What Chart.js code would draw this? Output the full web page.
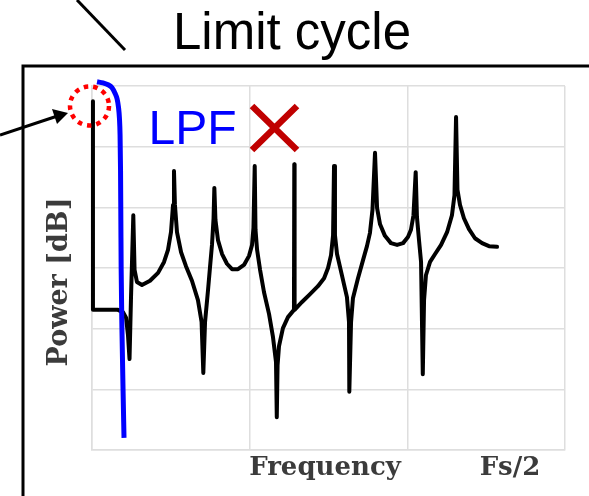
<!DOCTYPE html>
<html>
<head>
<meta charset="utf-8">
<script src="https://cdn.jsdelivr.net/npm/chart.js@4"></script>
<style>
  html, body { margin: 0; padding: 0; background: #fff; }
  canvas { display: block; }
</style>
</head>
<body>
<canvas id="spectrum-chart" width="589" height="496"></canvas>
<script>
// Output spectrum with the limit-cycle tones (x: frequency up to the plot edge, y: dB)
const freq = [
    0.06, 0.06, 1.65, 1.97, 2.16, 2.28, 2.38, 2.47, 2.62, 2.70, 2.85, 3.17, 3.68, 4.19, 4.57, 4.82, 5.01, 5.14,
    5.20, 5.26, 5.39, 5.65, 5.96, 6.34, 6.72, 6.95, 7.06, 7.17, 7.36, 7.48, 7.61, 7.71, 7.76, 7.83, 7.99, 8.25,
    8.56, 8.88, 9.26, 9.64, 9.96, 10.15, 10.24, 10.32, 10.37, 10.47, 10.66, 10.91, 11.23, 11.48, 11.67, 11.72,
    11.77, 11.86, 12.11, 12.43, 12.81, 12.83, 12.85, 13.32, 13.83, 14.33, 14.72, 14.97, 15.16, 15.29, 15.35,
    15.41, 15.54, 15.86, 16.17, 16.30, 16.32, 16.43, 16.55, 16.87, 17.19, 17.44, 17.63, 17.79, 17.95, 18.08,
    18.27, 18.58, 18.96, 19.35, 19.73, 20.04, 20.23, 20.39, 20.53, 20.61, 20.74, 20.87, 20.98, 21.06, 21.18,
    21.44, 21.76, 22.14, 22.52, 22.83, 22.99, 23.09, 23.18, 23.34, 23.59, 23.91, 24.29, 24.74, 25.18, 25.69
];
const power = [
    -2.5, -36.9, -36.9, -37.3, -38.2, -41.0, -45.0, -35.3, -21.3, -30.3, -32.3, -32.8, -32.1, -30.8, -29.0, -27.0, -24.1, -19.6,
    -14.0, -19.6, -24.1, -27.4, -29.7, -32.1, -35.3, -38.9, -47.3, -38.9, -33.6, -30.0, -26.2, -21.8, -16.8, -22.1, -25.4, -27.7,
    -29.3, -30.2, -30.2, -29.5, -28.0, -26.2, -23.4, -13.2, -23.7, -27.0, -30.3, -34.0, -37.6, -41.4, -45.5, -54.6,
    -46.0, -42.9, -39.9, -38.1, -36.9, -12.9, -36.9, -35.6, -34.3, -33.0, -31.7, -30.0, -27.9, -24.6, -13.2,
    -24.6, -27.7, -31.3, -34.8, -38.9, -50.4, -38.9, -35.0, -31.7, -28.7, -26.4, -24.2, -20.4, -11.0, -20.1,
    -22.8, -24.7, -25.9, -26.2, -25.9, -24.9, -23.7, -21.3, -14.2, -21.6, -25.4, -29.0, -47.5, -35.3, -31.2,
    -29.0, -27.7, -26.2, -24.1, -21.3, -18.0, -5.1, -17.1, -19.6, -21.8, -23.6, -25.1, -25.9, -26.4, -26.5
];

// Low-pass filter response
const lpfFreq = [0.32, 0.70, 1.02, 1.27, 1.46, 1.59, 1.68, 1.74, 1.78, 1.81, 1.83, 1.85, 1.90, 1.97, 2.03];
const lpfPower = [0.7, 0.5, 0.2, -0.3, -1.2, -2.1, -3.5, -5.3, -8.1, -13.9, -22.1, -30.3, -40.2, -50.1, -58.0];

const xTicks = [0, 10, 20, 30];
const yTicks = [-60, -50, -40, -30, -20, -10, 0];

const toPoints = (xs, ys) => xs.map((x, i) => ({x: x, y: ys[i]}));

// frame, title and the hand-drawn marks around the plot
const markup = {
    id: 'markup',
    beforeDraw(chart) {
        const c = chart.ctx;
        c.save();
        c.fillStyle = '#fff';
        c.fillRect(0, 0, chart.width, chart.height);
        c.restore();
    },
    afterDraw(chart) {
        const c = chart.ctx;
        c.save();

        // outer frame (top and left edges)
        c.strokeStyle = '#000';
        c.lineWidth = 3;
        c.beginPath();
        c.moveTo(589, 66);
        c.lineTo(23, 66);
        c.lineTo(23, 496);
        c.stroke();

        // diagonal pointer line
        c.lineWidth = 3;
        c.beginPath();
        c.moveTo(77, 0);
        c.lineTo(125, 50);
        c.stroke();

        c.fillStyle = '#000';
        c.font = '51px "Liberation Sans", Arial, sans-serif';
        c.textBaseline = 'alphabetic';
        c.fillText('Limit cycle', 173, 49);

        // arrow to the DC tone
        c.lineWidth = 3;
        c.beginPath();
        c.moveTo(0, 135);
        c.lineTo(56, 116.5);
        c.stroke();
        c.beginPath();
        c.moveTo(68, 113);
        c.lineTo(52, 109);
        c.lineTo(57, 124);
        c.closePath();
        c.fill();

        // dotted circle
        c.strokeStyle = '#ff0000';
        c.lineWidth = 4.5;
        c.setLineDash([4.5, 5]);
        c.beginPath();
        c.arc(89.5, 106, 19.5, 0, Math.PI * 2);
        c.stroke();
        c.setLineDash([]);

        c.fillStyle = '#0000ff';
        c.font = '48px "Liberation Sans", Arial, sans-serif';
        c.fillText('LPF', 148.5, 144);

        // cross
        c.strokeStyle = '#c00000';
        c.lineWidth = 6.5;
        c.beginPath();
        c.moveTo(252, 106);
        c.lineTo(297, 150);
        c.moveTo(297, 106);
        c.lineTo(252, 150);
        c.stroke();

        // axis titles
        c.fillStyle = '#3b3b3b';
        c.font = 'bold 26px "DejaVu Serif", serif';
        c.textAlign = 'center';
        c.fillText('Frequency', 325, 475);
        c.fillText('Fs/2', 510, 475);
        c.font = 'bold 27px "DejaVu Serif", serif';
        c.translate(67, 282);
        c.rotate(-Math.PI / 2);
        c.fillText('Power [dB]', 0, 0);

        c.restore();
    }
};

document.addEventListener('DOMContentLoaded', () => {
    const ctx = 'spectrum-chart';
    new Chart(ctx, {
        type: 'scatter',
        data: {
            datasets: [{
                label: 'LPF',
                data: toPoints(lpfFreq, lpfPower),
                showLine: true,
                borderColor: '#0000ff',
                borderWidth: 5,
                borderCapStyle: 'butt',
                cubicInterpolationMode: 'monotone',
                pointRadius: 0,
                clip: false
            }, {
                label: 'Spectrum',
                data: toPoints(freq, power),
                showLine: true,
                borderColor: '#000',
                borderWidth: 4,
                borderCapStyle: 'round',
                borderJoinStyle: 'round',
                tension: 0,
                pointRadius: 0,
                clip: false
            }]
        },
        options: {
            responsive: false,
            animation: false,
            layout: {
                padding: {left: 92, top: 86, right: 24, bottom: 46}
            },
            plugins: {
                legend: {display: false},
                tooltip: {enabled: false}
            },
            scales: {
                x: {
                    type: 'linear',
                    min: xTicks[0],
                    max: xTicks[xTicks.length - 1],
                    afterBuildTicks: (scale) => { scale.ticks = xTicks.map(v => ({value: v})); },
                    ticks: {display: false},
                    grid: {color: '#dedede', lineWidth: 1.5, drawTicks: false},
                    border: {color: '#dedede', width: 1.5}
                },
                y: {
                    type: 'linear',
                    min: yTicks[0],
                    max: yTicks[yTicks.length - 1],
                    afterBuildTicks: (scale) => { scale.ticks = yTicks.map(v => ({value: v})); },
                    ticks: {display: false},
                    grid: {color: '#dedede', lineWidth: 1.5, drawTicks: false},
                    border: {color: '#dedede', width: 1.5}
                }
            }
        },
        plugins: [markup]
    });
});
</script>
</body>
</html>
